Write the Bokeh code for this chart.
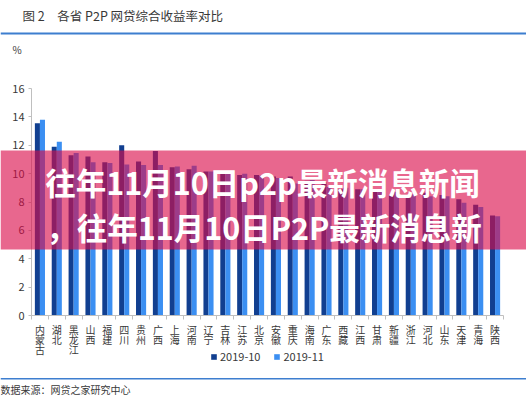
import numpy as np
from bokeh.plotting import figure
from bokeh.models import (Range1d, FixedTicker, BoxAnnotation, Label, Legend,
                          LegendItem, ColumnDataSource, GridBox)
from bokeh.embed import file_html
from bokeh.resources import INLINE

# ---------------- data ----------------
provinces = ["内蒙古", "湖北", "黑龙江", "山西", "福建", "四川", "贵州", "广西",
             "上海", "河南", "辽宁", "吉林", "江苏", "北京", "安徽", "重庆",
             "海南", "广东", "西藏", "江西", "甘肃", "新疆", "浙江", "河北",
             "山东", "天津", "青海", "陕西"]
rate_2019_10 = [13.55, 11.9, 11.3, 11.2, 10.8, 12.0, 10.85, 11.6,
                10.45, 10.3, 10.15, 10.1, 9.9, 9.9, 9.8, 9.8,
                9.5, 9.4, 8.9, 8.9, 8.75, 8.5, 8.3, 8.65,
                8.5, 8.2, 7.8, 7.05]
rate_2019_11 = [13.8, 12.25, 11.45, 10.8, 10.75, 10.65, 10.6, 10.6,
                10.5, 10.55, 10.15, 10.05, 10.0, 9.85, 9.7, 9.3,
                9.55, 9.05, 9.0, 8.9, 8.85, 8.7, 8.55, 8.4,
                8.4, 7.95, 7.65, 7.0]
series_names = ["2019-10", "2019-11"]
y_ticks = [0, 2, 4, 6, 8, 10, 12, 14, 16]
title_text = "图 2　各省 P2P 网贷综合收益率对比"
unit_text = "%"
source_text = "数据来源：网贷之家研究中心"
banner_lines = ["往年11月10日p2p最新消息新闻", "，往年11月10日P2P最新消息新"]

# ---------------- style ----------------
DARK = "#113f90"
LIGHT = "#3b8ff2"
PINK = "#da0a48"
RULE = "#3d7ecf"
AXIS = "#bfbfbf"
TXT = "#383838"
CJK = "Noto Sans CJK SC"

W, H = 526, 400
L, R, T, B = 31, 23, 88, 85

# ---------------- main chart ----------------
n = len(provinces)
centers = np.arange(n) + 0.5
src = ColumnDataSource(dict(x1=centers - 0.15, x2=centers + 0.15,
                            a=rate_2019_10, b=rate_2019_11))

p = figure(width=W, height=H, output_backend="svg", toolbar_location=None,
           x_range=Range1d(0, n), y_range=Range1d(y_ticks[0], y_ticks[-1]),
           min_border_left=L, min_border_right=R, min_border_top=T,
           min_border_bottom=B)
p.frame_align = False
p.outline_line_color = None
p.grid.visible = False
p.background_fill_color = "white"
p.border_fill_color = "white"

r1 = p.vbar(x="x1", top="a", width=0.3, source=src, fill_color=DARK, line_color=None)
r2 = p.vbar(x="x2", top="b", width=0.3, source=src, fill_color=LIGHT, line_color=None)

p.xaxis.ticker = FixedTicker(ticks=list(centers), minor_ticks=list(range(n + 1)))
p.xaxis.major_label_overrides = {float(c): "\n".join(name) for c, name in zip(centers, provinces)}
p.xaxis.major_tick_out = 0
p.xaxis.major_tick_in = 0
p.xaxis.minor_tick_out = 4
p.xaxis.minor_tick_in = 0
p.xaxis.minor_tick_line_color = AXIS
p.xaxis.axis_line_color = AXIS
p.xaxis.major_label_standoff = 2
p.xaxis.major_label_text_font = CJK
p.xaxis.major_label_text_font_size = "10px"
p.xaxis.major_label_text_line_height = 0.67
p.xaxis.major_label_text_color = TXT

p.yaxis.ticker = FixedTicker(ticks=y_ticks, minor_ticks=[])
p.yaxis.major_tick_out = 3
p.yaxis.major_tick_in = 0
p.yaxis.major_tick_line_color = AXIS
p.yaxis.axis_line_color = AXIS
p.yaxis.major_label_standoff = 4
p.yaxis.major_label_text_font = CJK
p.yaxis.major_label_text_font_size = "11px"
p.yaxis.major_label_text_color = TXT

# ---------------- overlay (canvas coordinates, y down) ----------------
o = figure(width=W, height=H, output_backend="svg", toolbar_location=None,
           x_range=Range1d(0, W), y_range=Range1d(H, 0),
           x_axis_type=None, y_axis_type=None,
           min_border_left=0, min_border_right=0, min_border_top=0,
           min_border_bottom=0)
o.frame_align = False
o.outline_line_color = None
o.grid.visible = False
o.background_fill_alpha = 0
o.border_fill_alpha = 0

# legend key proxies: zero-height bars (invisible), they only style the legend swatches
k1 = o.vbar(x=[0], bottom=[0], top=[0], width=0, fill_color=DARK, line_color=None)
k2 = o.vbar(x=[0], bottom=[0], top=[0], width=0, fill_color=LIGHT, line_color=None)
legend = Legend(items=[LegendItem(label=series_names[0], renderers=[k1]),
                       LegendItem(label=series_names[1], renderers=[k2])],
                orientation="horizontal", location=(210, H - 364),
                glyph_width=7, glyph_height=7, label_standoff=3, spacing=13,
                padding=0, margin=0, label_height=12, label_width=10,
                border_line_color=None, background_fill_alpha=0,
                label_text_font=CJK, label_text_font_size="11px",
                label_text_color=TXT)
o.add_layout(legend)


def box(y0, y1, color, alpha):
    return BoxAnnotation(left=0, right=W, top=y0, bottom=y1,
                         fill_color=color, fill_alpha=alpha, line_color=None)


o.add_layout(box(32, 34, RULE, 1))
o.add_layout(box(377.5, 379, RULE, 1))
o.add_layout(box(150, 249, PINK, 0.62))


def lab(x, y, text, size, color=TXT, align="left", bold=False):
    return Label(x=x, y=y, text=text, text_font=CJK, text_font_size=size,
                 text_font_style="bold" if bold else "normal",
                 text_color=color, text_align=align, text_baseline="middle")


o.add_layout(lab(22, 15, title_text, "12.5px"))
o.add_layout(lab(12, 49, unit_text, "10px"))
o.add_layout(lab(0, 389, source_text, "10px"))
for line, x, y in zip(banner_lines, [262, 263.5], [181.5, 226.5]):
    o.add_layout(lab(x, y, line, "30.5px", color="white", align="center", bold=True))

page = GridBox(children=[(p, 0, 0), (o, 0, 0)])

open("out.html", "w").write(file_html(page, INLINE))
